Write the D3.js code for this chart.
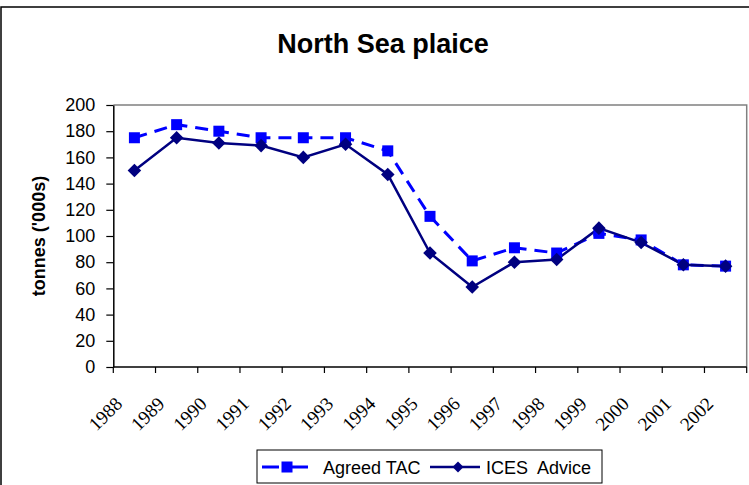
<!DOCTYPE html>
<html>
<head>
<meta charset="utf-8">
<script src="https://cdn.jsdelivr.net/npm/d3@7"></script>
<style>
  html, body { margin: 0; padding: 0; background: #fff; }
  svg { display: block; }
  text { white-space: pre; }
</style>
</head>
<body>
<svg id="chart" width="749" height="485"></svg>
<script>
const years = ["1988","1989","1990","1991","1992","1993","1994","1995","1996","1997","1998","1999","2000","2001","2002"];
const agreedTAC = [175, 185, 180, 175, 175, 175, 165, 115, 81, 91, 87, 102, 97, 78, 77];
const icesAdvice = [150, 175, 171, 169, 160, 170, 147, 87, 61, 80, 82, 106, 95, 78, 77];
const yTicks = [0, 20, 40, 60, 80, 100, 120, 140, 160, 180, 200];
const title = "North Sea plaice";
const yLabel = "tonnes ('000s)";
const seriesNames = ["Agreed TAC", "ICES  Advice"];

(function () {
const svg = d3.select("#chart");
const sans = "'Liberation Sans', Arial, sans-serif";
const serif = "'Liberation Serif', 'Times New Roman', serif";

// outer chart border
svg.append("rect").attr("x", 1).attr("y", 7).attr("width", 780).attr("height", 520)
  .attr("fill", "none").attr("stroke", "#000").attr("stroke-width", 1.5);

const pL = 113.3, pR = 746.7, pT = 105, pB = 367;
const x = d3.scaleBand().domain(years).range([pL, pR]).padding(0);
const y = d3.scaleLinear().domain([0, 200]).range([pB, pT]);
const cx = d => x(d) + x.bandwidth() / 2;

// plot area border (top/right gray)
svg.append("path")
  .attr("d", `M${pL},${pT}H${pR}V${pB}`)
  .attr("fill", "none").attr("stroke", "#808080").attr("stroke-width", 1.5);

// title
svg.append("text").attr("x", 383).attr("y", 53).attr("text-anchor", "middle")
  .attr("font-family", sans).attr("font-weight", "bold").attr("font-size", 27)
  .text(title);

// y axis
const yAxis = svg.append("g").attr("transform", `translate(${pL},0)`)
  .call(d3.axisLeft(y).tickValues(yTicks).tickSize(7).tickPadding(11).tickSizeOuter(0));
yAxis.select(".domain").attr("stroke", "#000").attr("stroke-width", 1.5);
yAxis.selectAll(".tick line").attr("stroke", "#000").attr("stroke-width", 1.2);
yAxis.selectAll(".tick text").attr("font-family", sans).attr("font-size", 18).attr("fill", "#000");

// y label
svg.append("text").attr("transform", `translate(45,${(pT + pB) / 2}) rotate(-90)`)
  .attr("text-anchor", "middle").attr("font-family", sans).attr("font-weight", "bold")
  .attr("font-size", 18).text(yLabel);

// x axis line + ticks at category boundaries
const xg = svg.append("g");
xg.append("line").attr("x1", pL).attr("x2", pR).attr("y1", pB).attr("y2", pB)
  .attr("stroke", "#000").attr("stroke-width", 1.5);
const boundaries = years.map(d => x(d)).concat([x.range()[1]]);
xg.selectAll("line.tk").data(boundaries).join("line").attr("class", "tk")
  .attr("x1", d => d).attr("x2", d => d).attr("y1", pB).attr("y2", pB + 6)
  .attr("stroke", "#000").attr("stroke-width", 1.2);
xg.selectAll("text").data(years).join("text")
  .attr("transform", d => `translate(${cx(d) - 11},${pB + 38}) rotate(-45)`)
  .attr("text-anchor", "end").attr("font-family", serif).attr("font-size", 19)
  .text(d => d);

// lines
const tacData = years.map((d, i) => [d, agreedTAC[i]]);
const icesData = years.map((d, i) => [d, icesAdvice[i]]);
const line = d3.line().x(d => cx(d[0])).y(d => y(d[1]));

svg.append("path").datum(tacData).attr("d", line).attr("fill", "none")
  .attr("stroke", "#0000ff").attr("stroke-width", 3).attr("stroke-dasharray", "13,8");
svg.append("path").datum(icesData).attr("d", line).attr("fill", "none")
  .attr("stroke", "#000080").attr("stroke-width", 2.5);

const sq = 11;
svg.selectAll("rect.tac").data(tacData).join("rect").attr("class", "tac")
  .attr("x", d => cx(d[0]) - sq / 2).attr("y", d => y(d[1]) - sq / 2)
  .attr("width", sq).attr("height", sq).attr("fill", "#0000ff");

const diamond = d3.symbol().type(d3.symbolSquare).size(92);
svg.selectAll("path.ices").data(icesData).join("path").attr("class", "ices")
  .attr("d", diamond)
  .attr("transform", d => `translate(${cx(d[0])},${y(d[1])}) rotate(45)`)
  .attr("fill", "#000080");

// legend
const lg = svg.append("g");
lg.append("rect").attr("x", 257).attr("y", 450).attr("width", 345).attr("height", 33)
  .attr("fill", "#fff").attr("stroke", "#000").attr("stroke-width", 1);
const ly = 467;
lg.append("line").attr("x1", 262).attr("x2", 308).attr("y1", ly).attr("y2", ly)
  .attr("stroke", "#0000ff").attr("stroke-width", 3).attr("stroke-dasharray", "17,9,20");
lg.append("rect").attr("x", 287 - sq / 2).attr("y", ly - sq / 2).attr("width", sq).attr("height", sq)
  .attr("fill", "#0000ff");
lg.append("text").attr("x", 323).attr("y", ly + 6.5).attr("font-family", sans).attr("font-size", 18)
  .text(seriesNames[0]);
lg.append("line").attr("x1", 430).attr("x2", 480).attr("y1", ly).attr("y2", ly)
  .attr("stroke", "#000080").attr("stroke-width", 2.5);
lg.append("path").attr("d", d3.symbol().type(d3.symbolSquare).size(60)())
  .attr("transform", `translate(458,${ly}) rotate(45)`).attr("fill", "#000080");
lg.append("text").attr("x", 486).attr("y", ly + 6.5).attr("font-family", sans).attr("font-size", 18)
  .text(seriesNames[1]);
})();
</script>
</body>
</html>
